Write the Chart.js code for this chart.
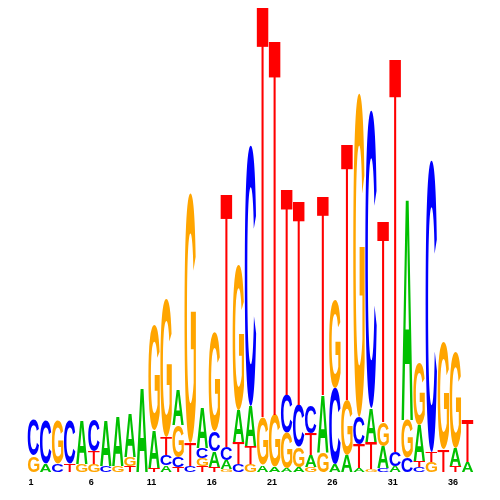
<!DOCTYPE html>
<html>
<head>
<meta charset="utf-8">
<script src="https://cdn.jsdelivr.net/npm/chart.js@4/dist/chart.umd.min.js"></script>
<style>
  html, body { margin: 0; padding: 0; background: #fff; }
  canvas { display: block; }
</style>
</head>
<body>
<canvas id="logo" width="500" height="500"></canvas>
<script>
// positions along the motif
const positions = ['1','2','3','4','5','6','7','8','9','10','11','12','13','14','15','16','17','18','19','20',
  '21','22','23','24','25','26','27','28','29','30','31','32','33','34','35','36','37'];
const shownTicks = ['1', '6', '11', '16', '21', '26', '31', '36'];

// letter heights per position
const heightA = [0,8,0,0,44,0,46,49,44,85, 38,7,35,0,40,16,9,32,40,7, 5,4,5,12,57,8,17,4,34,22, 6,223,36,0,0,18,10];
const heightC = [36,44,8,44,0,31,6,0,0,0, 0,10,10,6,10,20,13,8,261,0, 0,38,42,28,0,76,0,27,298,4, 14,14,5,292,0,0,0];
const heightG = [16,0,44,0,8,8,0,6,9,0, 105,139,32,250,8,99,3,145,8,48, 52,35,20,5,20,88,55,324,3,24, 0,38,62,10,107,96,0];
const heightT = [0,0,0,8,0,13,0,0,6,0, 4,18,5,23,6,5,252,22,18,409, 373,205,203,22,198,0,255,24,27,200, 392,0,6,10,22,6,42];

const letters = ['A', 'C', 'G', 'T'];
const letterColors = { A: '#00c000', C: '#0000ff', G: '#ffa500', T: '#ff0000' };
const heights = { A: heightA, C: heightC, G: heightG, T: heightT };

// stack each column: smallest letter at the bottom, largest on top
const floating = { A: [], C: [], G: [], T: [] };
positions.forEach((p, i) => {
  const order = letters.slice().sort((a, b) => heights[a][i] - heights[b][i]);
  let base = 0;
  order.forEach(l => {
    const h = heights[l][i];
    floating[l][i] = h > 0 ? [base, base + h] : null;
    base += h;
  });
});

function drawGlyph(ctx, ch, x0, y0, w, h) {
  if (ch === 'T') {
    // T drawn as bar + stem so the bar stays thin when stretched
    const bar = Math.max(1, h * 0.095);
    const stem = Math.max(1.5, w * 0.18);
    ctx.fillRect(x0, y0, w, bar);
    ctx.fillRect(x0 + (w - stem) / 2, y0, stem, h);
    return;
  }
  ctx.save();
  ctx.font = 'bold 100px "Liberation Sans"';
  ctx.textAlign = 'left';
  ctx.textBaseline = 'alphabetic';
  const m = ctx.measureText(ch);
  const gw = m.actualBoundingBoxLeft + m.actualBoundingBoxRight;
  const gh = m.actualBoundingBoxAscent + m.actualBoundingBoxDescent;
  ctx.translate(x0, y0);
  ctx.scale(w / gw, h / gh);
  ctx.fillText(ch, m.actualBoundingBoxLeft, m.actualBoundingBoxAscent);
  ctx.restore();
}

const letterPlugin = {
  id: 'letters',
  afterDatasetsDraw(chart) {
    const ctx = chart.ctx;
    chart.data.datasets.forEach((ds, di) => {
      const meta = chart.getDatasetMeta(di);
      meta.data.forEach((bar, i) => {
        if (!ds.data[i]) return;
        const top = Math.min(bar.y, bar.base);
        const h = Math.abs(bar.base - bar.y);
        if (h < 0.5) return;
        ctx.fillStyle = letterColors[ds.label];
        drawGlyph(ctx, ds.label, bar.x - bar.width / 2, top, bar.width, h);
      });
    });
  }
};

new Chart(document.getElementById('logo'), {
  type: 'bar',
  data: {
    labels: positions,
    datasets: letters.map(l => ({
      label: l,
      data: floating[l],
      backgroundColor: 'rgba(0,0,0,0)',
      borderWidth: 0,
      grouped: false,
      barPercentage: 0.95,
      categoryPercentage: 1
    }))
  },
  options: {
    responsive: false,
    animation: false,
    layout: { padding: { left: 27.5, right: 26.5, top: 8, bottom: 0 } },
    plugins: {
      legend: { display: false },
      tooltip: { enabled: false }
    },
    scales: {
      x: {
        offset: true,
        grid: { display: false, drawTicks: false },
        border: { display: false },
        afterFit(axis) { axis.height = 28; },
        ticks: {
          autoSkip: false,
          maxRotation: 0,
          padding: 5,
          labelOffset: -2.5,
          color: '#000',
          font: { family: '"Liberation Sans"', size: 9, weight: 'bold' },
          callback(v, i) {
            const lab = positions[i];
            return shownTicks.includes(lab) ? lab : '';
          }
        }
      },
      y: {
        display: false,
        min: 0,
        max: 464
      }
    }
  },
  plugins: [letterPlugin]
});
</script>
</body>
</html>
